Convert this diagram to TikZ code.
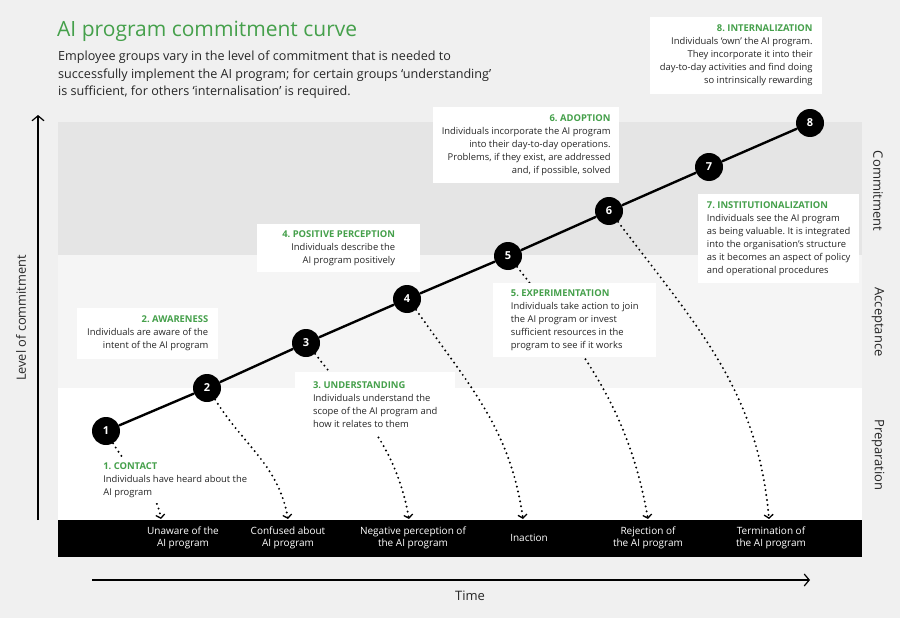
\documentclass[tikz,border=0pt]{standalone}
\usepackage{fontspec}
\setmainfont{Open Sans}
\usetikzlibrary{arrows.meta}
\frenchspacing
\definecolor{bggray}{HTML}{F0F0F0}
\definecolor{bandA}{HTML}{E5E5E5}
\definecolor{bandB}{HTML}{F5F5F5}
\definecolor{agreen}{HTML}{45A04B}
\definecolor{txt}{HTML}{262626}
\tikzset{
  circ/.style={circle, fill=black, minimum size=28pt, inner sep=0pt, text=white,
    font=\bfseries\fontsize{11}{11}\selectfont},
  infobox/.style={fill=white, inner sep=0pt, text=txt, anchor=north west,
    font=\fontsize{9.4}{13}\selectfont},
  dotline/.style={line width=2.2pt, dash pattern=on 0pt off 5pt, line cap=round,
    -{Straight Barb[length=3.5pt,width=9pt,line width=1.3pt]}},
  curveline/.style={line width=2.4pt},
  barlabel/.style={text=white, align=center, inner sep=0pt, font=\fontsize{10}{12}\selectfont},
  sidelabel/.style={text=txt, inner sep=0pt, font=\fontsize{13}{13}\selectfont},
  axisline/.style={line width=1.2pt, -{Straight Barb[length=5pt,width=12pt,line width=1.2pt]}}
}
\newcommand{\bt}[1]{{\bfseries\color{agreen}#1}}
\begin{document}
\begin{tikzpicture}[x=1pt,y=-1pt]
\useasboundingbox (0,0) rectangle (900,618);
\fill[bggray] (0,0) rectangle (900,618);
% bands
\fill[bandA] (58,122) rectangle (862,255);
\fill[bandB] (58,255) rectangle (862,388);
\fill[white] (58,388) rectangle (862,520);
% bottom bar
\node[fill=black, minimum width=804pt, minimum height=37pt, inner sep=0pt, anchor=north west] (bar) at (58,520) {};
% title
\node[anchor=west, text=agreen, inner sep=0pt, font=\fontsize{21}{21}\selectfont] (title) at (57,31) {AI program commitment curve};
\node[anchor=north west, align=left, text=txt, inner sep=0pt, font=\fontsize{12.6}{17.2}\selectfont] (sub) at (58,51)
  {Employee groups vary in the level of commitment that is needed to\\
   successfully implement the AI program; for certain groups ‘understanding’\\
   is sufficient, for others ‘internalisation’ is required.};
% circles
\node[circ] (c1) at (106,431) {1};
\node[circ] (c2) at (207,388) {2};
\node[circ] (c3) at (306,343) {3};
\node[circ] (c4) at (407,299) {4};
\node[circ] (c5) at (508,256) {5};
\node[circ] (c6) at (609,211) {6};
\node[circ] (c7) at (709,167) {7};
\node[circ] (c8) at (810,123) {8};
\draw[curveline] (c1) -- (c2) -- (c3) -- (c4) -- (c5) -- (c6) -- (c7) -- (c8);
% curve ends
\coordinate (e1) at (161,519);
\coordinate (e2) at (288,519);
\coordinate (e3) at (409,519);
\coordinate (e4) at (523,519);
\coordinate (e5) at (648,519);
\coordinate (e6) at (769,519);
\draw[dotline] (c1.-60) to[out=-60,in=100] (e1);
\draw[dotline] (c2.-55) to[out=-58,in=100] (e2);
\draw[dotline] (c3.-50) to[out=-52,in=100] (e3);
\draw[dotline] (c4.-50) to[out=-55,in=98] (e4);
\draw[dotline] (c5.-50) to[out=-52,in=100] (e5);
\draw[dotline] (c6.-50) to[out=-53,in=95] (e6);
% boxes
\node[infobox, align=right, minimum width=172pt, minimum height=77pt] (b8) at (650,17)
  {\bt{8. INTERNALIZATION}\\Individuals ‘own’ the AI program.\\They incorporate it into their\\day-to-day activities and find doing\\so intrinsically rewarding};
\node[infobox, align=right, minimum width=186pt, minimum height=76pt] (b6) at (433,107)
  {\bt{6. ADOPTION}\\Individuals incorporate the AI program\\into their day-to-day operations.\\Problems, if they exist, are addressed\\and, if possible, solved};
\node[infobox, align=right, minimum width=163pt, minimum height=48pt] (b4) at (257,224)
  {\bt{4. POSITIVE PERCEPTION}\\Individuals describe the\\AI program positively};
\node[infobox, align=right, minimum width=141pt, minimum height=51pt] (b2) at (77,308)
  {\bt{2. AWARENESS}\\Individuals are aware of the\\intent of the AI program};
\node[infobox, align=left, minimum width=161pt, minimum height=89pt] (b7) at (698,194)
  {\bt{7. INSTITUTIONALIZATION}\\Individuals see the AI program\\as being valuable. It is integrated\\into the organisation’s structure\\as it becomes an aspect of policy\\and operational procedures};
\node[infobox, align=left, minimum width=163pt, minimum height=74pt] (b5) at (493,283)
  {\bt{5. EXPERIMENTATION}\\Individuals take action to join\\the AI program or invest\\sufficient resources in the\\program to see if it works};
\node[infobox, align=left, minimum width=160pt, minimum height=64pt] (b3) at (295,372)
  {\bt{3. UNDERSTANDING}\\Individuals understand the\\scope of the AI program and\\how it relates to them};
\node[infobox, align=left, minimum width=166pt, minimum height=45pt] (b1) at (92,458)
  {\bt{1. CONTACT}\\Individuals have heard about the\\AI program};
% bar labels
\node[barlabel] (l1) at (183,538) {Unaware of the\\AI program};
\node[barlabel] (l2) at (288,538) {Confused about\\AI program};
\node[barlabel] (l3) at (413,538) {Negative perception of\\the AI program};
\node[barlabel] (l4) at (529,538) {Inaction};
\node[barlabel] (l5) at (648,538) {Rejection of\\the AI program};
\node[barlabel] (l6) at (771,538) {Termination of\\the AI program};
% side labels
\node[sidelabel, rotate=-90] (s1) at (878,191) {Commitment};
\node[sidelabel, rotate=-90] (s2) at (878,322) {Acceptance};
\node[sidelabel, rotate=-90] (s3) at (878,455) {Preparation};
% axes
\coordinate (yb) at (38,520);
\coordinate (yt) at (38,115);
\draw[axisline] (yb) -- (yt);
\node[sidelabel, rotate=90, font=\fontsize{12.8}{12.8}\selectfont] (ylab) at (21,318) {Level of commitment};
\coordinate (xl) at (92,580);
\coordinate (xr) at (810,580);
\draw[axisline] (xl) -- (xr);
\node[sidelabel, font=\fontsize{13}{13}\selectfont] (xlab) at (470,596) {Time};
\end{tikzpicture}
\end{document}
